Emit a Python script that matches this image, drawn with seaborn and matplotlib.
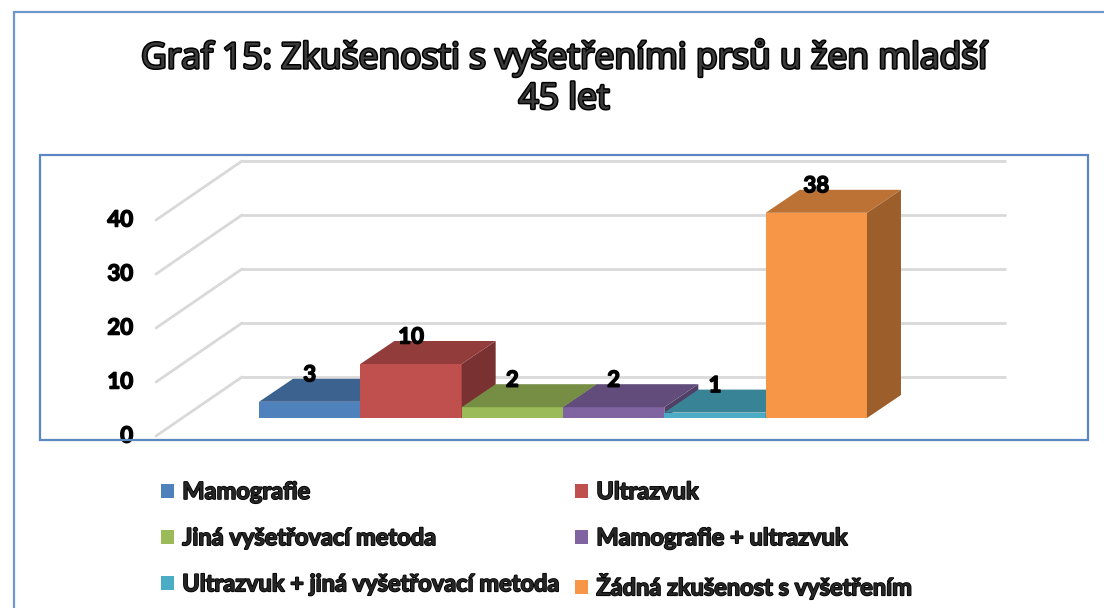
import matplotlib
matplotlib.use("Agg")
import matplotlib.pyplot as plt
import matplotlib.transforms as mtransforms
import matplotlib.patheffects as pe
from matplotlib.patches import Polygon, Rectangle, Patch
import matplotlib.colors as mcolors
import seaborn as sns
import numpy as np

categories = ["Mamografie", "Ultrazvuk", "Jiná vyšetřovací metoda",
              "Mamografie + ultrazvuk", "Ultrazvuk + jiná vyšetřovací metoda",
              "Žádná zkušenost s vyšetřením"]
values = [3, 10, 2, 2, 1, 38]
colors = ["#4F81BD", "#C0504D", "#9BBB59", "#8064A2", "#4BACC6", "#F79646"]
yticks = [0, 10, 20, 30, 40]
title = "Graf 15: Zkušenosti s vyšetřeními prsů u žen mladší\n45 let"

sns.set_theme(style="white")
plt.rcParams["font.family"] = ["Lato", "DejaVu Sans"]

W, H, DPI = 1104, 608, 100
fig = plt.figure(figsize=(W / DPI, H / DPI), dpi=DPI)
fig.patch.set_facecolor("white")

heavy = [pe.withStroke(linewidth=1.1, foreground="black")]

# bar plane axes
left_px, right_px, base_px, top_px = 182, 945, 418, 148
ax = fig.add_axes([left_px / W, (H - base_px) / H, (right_px - left_px) / W, (base_px - top_px) / H])
ax.set_xlim(-1.26, 6.27)
ax.set_ylim(0, 50)
ax.set_axis_off()
ax.patch.set_alpha(0)

def shifted(dx, dy):
    return ax.transData + mtransforms.ScaledTranslation(dx / DPI, dy / DPI, fig.dpi_scale_trans)

wall_tr = shifted(60, 41)
front_tr = shifted(-26, -18)
inv = ax.transData.inverted()
grid_col = "#D9D9D9"
xmin, xmax = ax.get_xlim()
for v in yticks:
    ax.plot([xmin, xmax], [v, v], transform=wall_tr, color=grid_col, lw=2, clip_on=False, zorder=0)
    p1 = inv.transform(front_tr.transform((xmin, v)))
    p2 = inv.transform(wall_tr.transform((xmin, v)))
    ax.plot([p1[0], p2[0]], [p1[1], p2[1]], color=grid_col, lw=2, clip_on=False, zorder=0)
    ax.text(xmin, v, str(v), transform=front_tr + mtransforms.ScaledTranslation(-23 / DPI, 0, fig.dpi_scale_trans),
            ha="right", va="center", fontsize=16, fontweight="bold", color="black", path_effects=heavy)

sns.barplot(x=categories, y=values, hue=categories, palette=colors, width=1.0,
            saturation=1, legend=False, ax=ax, order=categories, hue_order=categories)
ax.set_xlim(xmin, xmax)
ax.set_ylim(0, 50)
ax.set_axis_off()

# depth in data units
o = inv.transform(ax.transData.transform((0, 0)))
d = inv.transform(ax.transData.transform((0, 0)) + np.array([34, 23]))
ddx, ddy = d - o

def shade(c, f):
    r, g, b = mcolors.to_rgb(c)
    return (r * f, g * f, b * f)

bars = sorted(ax.patches, key=lambda p: p.get_x())
for i, (bar, col, val) in enumerate(zip(bars, colors, values)):
    x0, w, h = bar.get_x(), bar.get_width(), bar.get_height()
    bar.set_edgecolor("none")
    bar.set_zorder(2 + 3 * i)
    top = Polygon([(x0, h), (x0 + w, h), (x0 + w + ddx, h + ddy), (x0 + ddx, h + ddy)],
                  closed=True, facecolor=shade(col, 0.76), edgecolor="none", zorder=2 + 3 * i + 1, clip_on=False)
    side = Polygon([(x0 + w, 0), (x0 + w + ddx, ddy), (x0 + w + ddx, h + ddy), (x0 + w, h)],
                   closed=True, facecolor=shade(col, 0.63), edgecolor="none", zorder=2 + 3 * i + 1, clip_on=False)
    ax.add_patch(side)
    ax.add_patch(top)
    ax.text(x0 + w / 2, h, str(val),
            transform=ax.transData + mtransforms.ScaledTranslation(0, 27 / DPI, fig.dpi_scale_trans),
            ha="center", va="center", fontsize=16, fontweight="bold", color="black", zorder=40,
            clip_on=False, path_effects=heavy)

# title
fig.text(564 / W, 1 - 78 / H, title, ha="center", va="center", fontsize=25.5, fontweight="normal",
         family=["Open Sans", "DejaVu Sans"], color="#3a3a3a", linespacing=1.25,
         path_effects=[pe.Stroke(linewidth=2.2, foreground="black"), pe.Normal()])

# frames
fig.add_artist(Rectangle((40 / W, 1 - 440 / H), (1088 - 40) / W, (440 - 155) / H, transform=fig.transFigure,
                         fill=False, edgecolor="#5B88C4", lw=1.6))
fig.add_artist(Rectangle((14 / W, -0.1), 1.2, 1 - 12 / H + 0.1, transform=fig.transFigure,
                         fill=False, edgecolor="#6E97CC", lw=1.6))

# legend (row-wise order)
handles = [Patch(facecolor=c, edgecolor="none") for c in colors]
order = [0, 2, 4, 1, 3, 5]
leg = fig.legend([handles[k] for k in order], [categories[k] for k in order], ncol=2,
                 loc="upper left", bbox_to_anchor=(161 / W, 1 - 480 / H), frameon=False,
                 prop={"size": 17, "weight": "bold"}, handlelength=0.55, handleheight=0.55,
                 handletextpad=0.35, columnspacing=0.65, labelspacing=0.98, borderpad=0, borderaxespad=0)
for t in leg.get_texts():
    t.set_path_effects([pe.withStroke(linewidth=1.2, foreground="black")])

fig.savefig("out.png", dpi=DPI)
